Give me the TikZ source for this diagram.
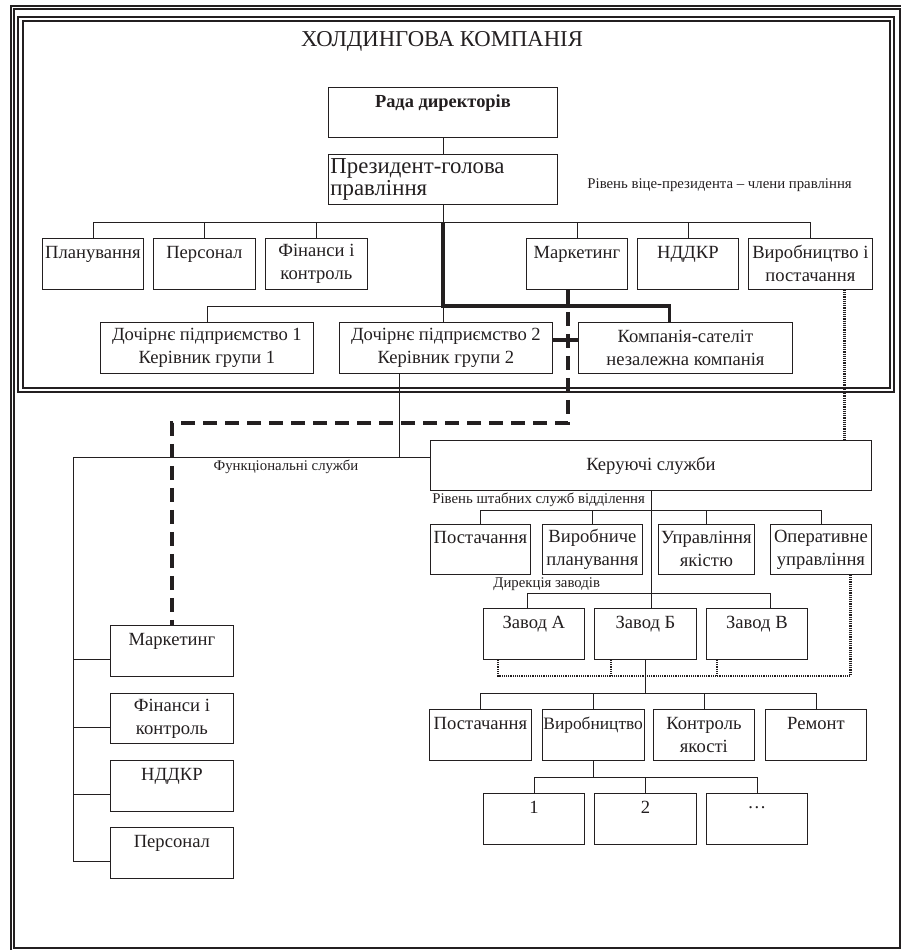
\documentclass[tikz,border=0pt]{standalone}
\usepackage{fontspec}
\setmainfont{Liberation Serif}
\usepackage{xcolor}
\usetikzlibrary{positioning, calc}
\definecolor{inkgray}{RGB}{35, 31, 32}

\begin{document}
\begin{tikzpicture}[x=1pt, y=-1pt, color=inkgray, line width=0.8pt,
    unit/.style={draw, align=center, inner sep=1pt, minimum height=51pt, anchor=north west,
        font=\fontsize{18.6}{23}\selectfont},
    note/.style={font=\fontsize{14.8}{17}\selectfont, inner sep=0pt, anchor=west},
    holdline/.style={line width=3.2pt},
    dashline/.style={line width=3.5pt, dash pattern=on 14pt off 8pt},
    dotline/.style={line width=2.2pt, dash pattern=on 1.2pt off 1pt},
    frame/.style={double, double distance=1.6pt, line width=1.7pt}]
    \useasboundingbox (0,0) rectangle (901,950);

    % Frames
    \draw[frame] (12.5,7.5) rectangle (901.5,949.5);
    \draw[frame, line width=2.2pt, double distance=2.5pt] (20.5,19) rectangle (892,390);

    % Holding company
    \node[font=\fontsize{22.7}{26}\selectfont] (title) at (442,41) {ХОЛДИНГОВА КОМПАНІЯ};
    \node[unit, minimum width=229pt, minimum height=50pt, font=\bfseries\fontsize{18.4}{23}\selectfont]
        (rada) at (328,87) {Рада директорів\\~};
    \node[unit, minimum width=229pt, minimum height=50pt, text width=225pt, align=left,
        font=\fontsize{22.8}{22}\selectfont] (pres) at (328,154) {Президент-голова\\правління};
    \node[note] (vplevel) at (587,185) {Рівень віце-президента – члени правління};

    \node[unit, minimum width=101pt] (plan) at (42,238) {Планування\\~};
    \node[unit, minimum width=102pt] (pers) at (153,238) {Персонал\\~};
    \node[unit, minimum width=102pt] (fin) at (265,238) {Фінанси і\\контроль};
    \node[unit, minimum width=101pt] (mark) at (526,238) {Маркетинг\\~};
    \node[unit, minimum width=101pt] (ndkr) at (637,238) {НДДКР\\~};
    \node[unit, minimum width=124pt] (vyr) at (748,238) {Виробництво і\\постачання};

    \node[unit, minimum width=213pt] (sub1) at (100,322) {Дочірнє підприємство 1\\Керівник групи 1};
    \node[unit, minimum width=213pt] (sub2) at (339,322) {Дочірнє підприємство 2\\Керівник групи 2};
    \node[unit, minimum width=214pt] (sat) at (578,322) {Компанія-сателіт\\незалежна компанія};

    % Functional services
    \node[unit, minimum width=123pt] (fmark) at (110,625) {Маркетинг\\~};
    \node[unit, minimum width=123pt, minimum height=50pt] (ffin) at (110,693) {Фінанси і\\контроль};
    \node[unit, minimum width=123pt] (fnd) at (110,760) {НДДКР\\~};
    \node[unit, minimum width=123pt] (fpers) at (110,827) {Персонал\\~};
    \node[note, anchor=center] (funclabel) at (286,467) {Функціональні служби};

    % Managing services
    \node[unit, minimum width=441pt, minimum height=50pt] (ctrl) at (430,440) {Керуючі служби};
    \node[note] (stafflabel) at (432,500) {Рівень штабних служб відділення};
    \node[unit, minimum width=100pt, minimum height=50pt] (supply) at (430,524) {Постачання\\~};
    \node[unit, minimum width=100pt, minimum height=50pt] (plng) at (542,524) {Виробниче\\планування};
    \node[unit, minimum width=96pt, minimum height=50pt] (qual) at (658,524) {Управління\\якістю};
    \node[unit, minimum width=101pt, minimum height=50pt] (oper) at (770,524) {Оперативне\\управління};

    \node[note] (plantlabel) at (493,584) {Дирекція заводів};
    \node[unit, minimum width=101pt] (plA) at (483,608) {Завод А\\~};
    \node[unit, minimum width=102pt] (plB) at (594,608) {Завод Б\\~};
    \node[unit, minimum width=101pt] (plV) at (706,608) {Завод В\\~};

    \node[unit, minimum width=102pt] (dsup) at (429,709) {Постачання\\~};
    \node[unit, minimum width=100pt, font=\fontsize{17.4}{23}\selectfont] (dprod) at (542,709) {Виробництво\\~};
    \node[unit, minimum width=101pt] (dqc) at (653,709) {Контроль\\якості};
    \node[unit, minimum width=101pt] (drep) at (765,709) {Ремонт\\~};

    \node[unit, minimum width=101pt] (u1) at (483,793) {1\\~};
    \node[unit, minimum width=102pt] (u2) at (594,793) {2\\~};
    \node[unit, minimum width=101pt] (u3) at (706,793) {…\\~};

    % Bus levels
    \coordinate (vpbus) at (0,222);
    \coordinate (subbus) at (0,306);
    \coordinate (dashbend) at (0,423);
    \coordinate (funcbus) at (73,457);
    \coordinate (staffbus) at (0,510);
    \coordinate (plantbus) at (0,593);
    \coordinate (dotbus) at (0,676);
    \coordinate (deptbus) at (0,693);
    \coordinate (unitbus) at (0,777);

    % Top management
    \draw (rada) -- (pres);
    \draw (pres.south) -- (pres.south |- vpbus);
    \draw (plan.north) |- (vyr.north |- vpbus) -- (vyr.north);
    \foreach \n in {pers, fin, mark, ndkr}
        \draw (\n.north) -- (\n.north |- vpbus);
    \draw (sub1.north) |- (pres.south |- subbus) -- (pres.south |- sub2.north);
    \draw[holdline] (pres.south |- vpbus) -- (pres.south |- subbus) -| ([xshift=-16pt]sat.north);
    \draw[holdline] ([yshift=8pt]sub2.east) -- ([yshift=8pt]sat.west);

    % Links out of the holding
    \draw[dashline] ([xshift=-9pt]mark.south) |- (fmark.north |- dashbend) -- (fmark.north);
    \draw[dotline] ([xshift=34pt]vyr.south) -- ([xshift=34pt]vyr.south |- ctrl.north);
    \draw ([xshift=-47pt]sub2.south) -- ([xshift=-47pt]sub2.south |- funcbus);
    \draw ([yshift=-8.5pt]fpers.west) -| (funcbus) -- (funcbus -| ctrl.west);
    \foreach \n in {fmark, ffin, fnd}
        \draw ([yshift=-8.5pt]\n.west) -- ([yshift=-8.5pt]\n.west -| funcbus);

    % Division
    \draw (ctrl.south) -- (ctrl.south |- plB.north);
    \draw (supply.north) |- (oper.north |- staffbus) -- (oper.north);
    \foreach \n in {plng, qual}
        \draw (\n.north) -- (\n.north |- staffbus);
    \draw ([xshift=-7pt]plA.north) |- ([xshift=13pt]plV.north |- plantbus) -- ([xshift=13pt]plV.north);

    \draw[dotline] ([xshift=29.5pt]oper.south) |- ([xshift=15pt]plA.south west |- dotbus)
        -- ([xshift=15pt]plA.south west);
    \foreach \n/\s in {plB/17, plV/11}
        \draw[dotline] ([xshift=\s pt]\n.south west) -- ([xshift=\s pt]\n.south west |- dotbus);

    \draw (plB.south) -- (plB.south |- deptbus);
    \draw (dsup.north) |- (drep.north |- deptbus) -- (drep.north);
    \foreach \n in {dprod, dqc}
        \draw (\n.north) -- (\n.north |- deptbus);

    \draw (dprod.south) -- (dprod.south |- unitbus);
    \draw (u1.north) |- (u3.north |- unitbus) -- (u3.north);
    \draw (u2.north) -- (u2.north |- unitbus);
\end{tikzpicture}
\end{document}
